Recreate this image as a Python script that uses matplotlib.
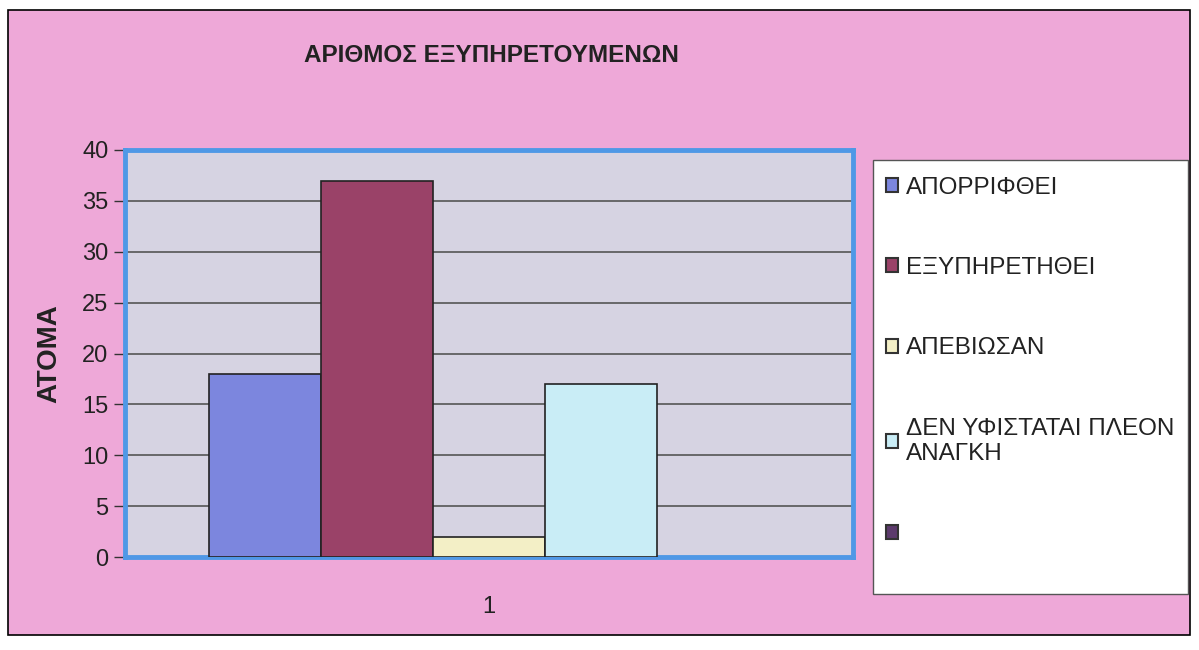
import matplotlib
matplotlib.use("Agg")
import matplotlib.pyplot as plt
from matplotlib.patches import Rectangle, Patch
import numpy as np

OUTPUT_IMAGE = "out.png"

# datos
categorias = ["1"]
series = ["ΑΠΟΡΡΙΦΘΕΙ", "ΕΞΥΠΗΡΕΤΗΘΕΙ", "ΑΠΕΒΙΩΣΑΝ", "ΔΕΝ ΥΦΙΣΤΑΤΑΙ ΠΛΕΟΝ\nΑΝΑΓΚΗ", ""]
valores = [18, 37, 2, 17, np.nan]  # la quinta serie esta vacia
colores = ["#7c86de", "#9a4268", "#f3efc6", "#c9edf6", "#5c3a6c"]
y_ticks = [0, 5, 10, 15, 20, 25, 30, 35, 40]

TITULO = "ΑΡΙΘΜΟΣ ΕΞΥΠΗΡΕΤΟΥΜΕΝΩΝ"
Y_LABEL = "ΑΤΟΜΑ"

W, H = 1199, 650
plt.rcParams["font.family"] = ["Liberation Sans", "DejaVu Sans"]

fig = plt.figure(figsize=(W / 100, H / 100), dpi=100)
fig.patch.set_facecolor("white")

# fondo rosa con marco negro
fig.patches.append(Rectangle((8 / W, 1 - 635 / H), (1190 - 8) / W, (635 - 10) / H,
                             transform=fig.transFigure, facecolor="#eea8d8",
                             edgecolor="black", linewidth=1.2, zorder=-2))
# caja blanca de la leyenda
fig.patches.append(Rectangle((873 / W, 1 - 594 / H), (1188 - 873) / W, (594 - 160) / H,
                             transform=fig.transFigure, facecolor="white",
                             edgecolor="#555555", linewidth=1.0, zorder=-1))

ax = fig.add_axes([125 / W, 1 - 557 / H, (853 - 125) / W, (557 - 150) / H])
ax.set_zorder(2)
ax.set_facecolor("#d6d3e2")

n = len(series)
ancho = 112 / 728
x0 = np.arange(len(categorias))
for i in range(n):
    off = (i - (n - 1) / 2) * ancho
    ax.bar(x0 + off, [valores[i]], width=ancho, color=colores[i],
           edgecolor="#222222", linewidth=1.2, zorder=3)

ax.set_xlim(-0.5, 0.5)
ax.set_ylim(0, 40)
ax.set_yticks(y_ticks)
ax.set_xticks(x0)
ax.set_xticklabels(categorias)
ax.tick_params(axis="y", labelsize=17, length=8, width=1, color="#333333", pad=4,
               labelcolor="#222222")
ax.tick_params(axis="x", labelsize=17, length=0, pad=28, labelcolor="#222222")
ax.yaxis.grid(True, color="#555555", linewidth=1.2, zorder=1)
ax.set_axisbelow(True)
for s in ax.spines.values():
    s.set_color("#4f98e6")
    s.set_linewidth(3.5)
ax.set_ylabel(Y_LABEL, fontsize=20, fontweight="bold", labelpad=14, color="#222222")

fig.text(491 / W, 1 - 55 / H, TITULO, ha="center", va="center", fontsize=17.5,
         fontweight="bold", color="#222222")

handles = [Patch(facecolor=c, edgecolor="#333333", linewidth=1.5) for c in colores]
leg = fig.legend(handles, series, loc="upper left",
                 bbox_to_anchor=(876 / W, 1 - 167 / H), frameon=False,
                 fontsize=17.5, handlelength=0.5, handleheight=0.5,
                 handletextpad=0.35, labelspacing=2.4, borderaxespad=0)
for t in leg.get_texts():
    t.set_color("#222222")

fig.savefig(OUTPUT_IMAGE, dpi=100)
plt.close(fig)
